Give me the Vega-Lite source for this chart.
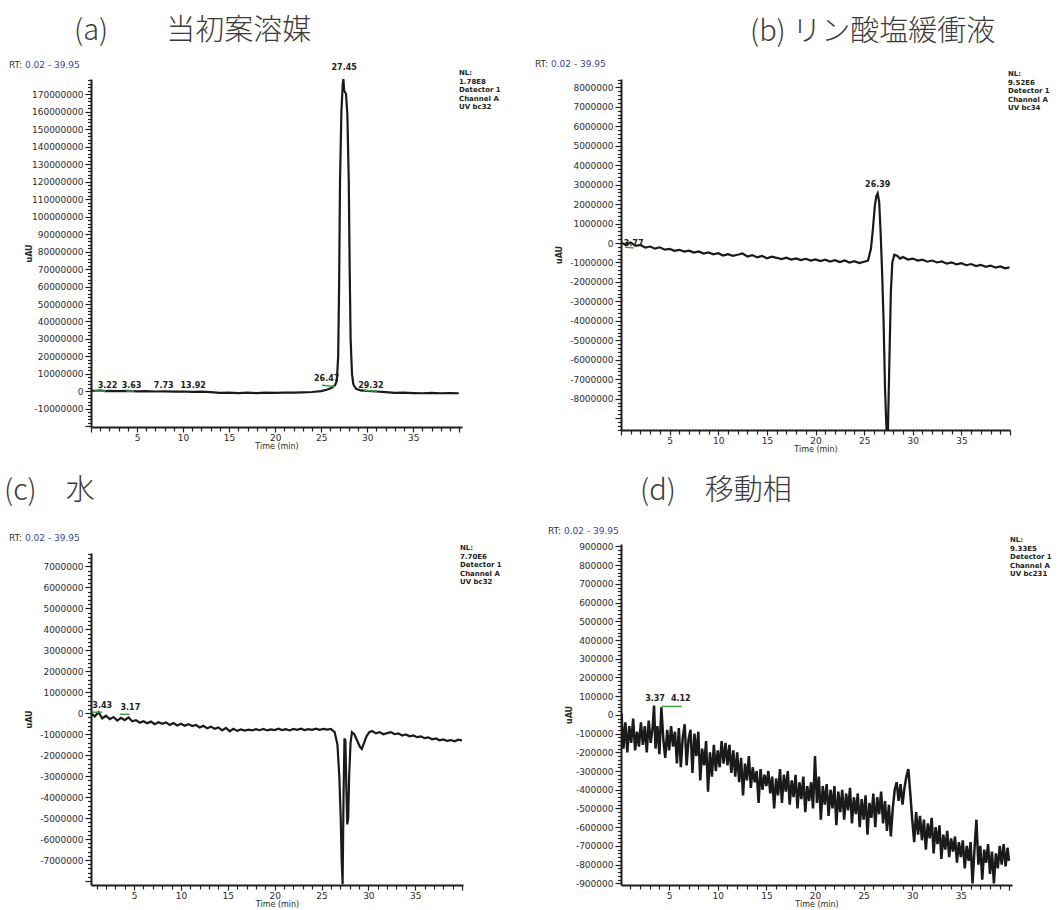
{
  "$schema": "https://vega.github.io/schema/vega-lite/v6.json",
  "background": "white",
  "padding": {"left": 4, "top": 17, "right": 4, "bottom": 0},
  "config": {
    "view": {"stroke": null},
    "font": "DejaVu Sans",
    "axis": {
      "domainColor": "#1e1e1e", "domainWidth": 2, "tickColor": "#1e1e1e", "tickWidth": 1.2,
      "labelFont": "DejaVu Sans", "labelFontSize": 9, "labelColor": "#2b2b2b", "labelPadding": 2,
      "titleFont": "DejaVu Sans", "titleFontSize": 8, "titleFontWeight": "normal", "titleColor": "#2b2b2b",
      "grid": false, "labelOverlap": false, "labelFlush": false
    },
    "axisX": {"titlePadding": 0, "labelPadding": 1},
    "axisY": {"titleFontWeight": "bold"},
    "title": {"font": "Noto Sans CJK JP", "fontSize": 29, "fontWeight": 300, "color": "#3a3a3a", "anchor": "start", "frame": "group", "baseline": "bottom"}
  },
  "datasets": {
    "a": [
      {"t":0.02,"v":500000},{"t":0.5,"v":300000},{"t":1,"v":600000},{"t":1.5,"v":200000},{"t":2,"v":400000},{"t":3,"v":200000},{"t":4,"v":300000},{"t":5,"v":100000},{"t":6,"v":200000},{"t":7,"v":0},{"t":8,"v":100000},{"t":9,"v":-100000},{"t":10,"v":0},{"t":11,"v":-200000},{"t":12,"v":-100000},{"t":13,"v":-400000},{"t":14,"v":-800000},{"t":15,"v":-600000},{"t":16,"v":-900000},{"t":17,"v":-700000},{"t":18,"v":-900000},{"t":19,"v":-600000},{"t":20,"v":-800000},{"t":21,"v":-700000},{"t":22,"v":-600000},{"t":23,"v":-500000},{"t":24,"v":-300000},{"t":25,"v":200000},{"t":25.6,"v":1000000},{"t":26.1,"v":2000000},{"t":26.5,"v":3500000},{"t":26.7,"v":6000000},{"t":26.85,"v":20000000},{"t":26.95,"v":60000000},{"t":27.05,"v":120000000},{"t":27.2,"v":160000000},{"t":27.35,"v":176000000},{"t":27.42,"v":178500000},{"t":27.5,"v":172000000},{"t":27.7,"v":170000000},{"t":27.85,"v":158000000},{"t":28,"v":120000000},{"t":28.1,"v":70000000},{"t":28.2,"v":30000000},{"t":28.35,"v":10000000},{"t":28.5,"v":4000000},{"t":28.8,"v":1500000},{"t":29.3,"v":600000},{"t":30,"v":300000},{"t":31,"v":0},{"t":32,"v":-400000},{"t":33,"v":-800000},{"t":34,"v":-700000},{"t":35,"v":-900000},{"t":36,"v":-1000000},{"t":37,"v":-800000},{"t":38,"v":-1000000},{"t":39,"v":-900000},{"t":39.95,"v":-1000000}
    ],
    "a_lab": [
      {"t":1.8,"v":0,"label":"3.22"},{"t":4.4,"v":0,"label":"3.63"},{"t":7.9,"v":0,"label":"7.73"},{"t":11.1,"v":0,"label":"13.92"},{"t":25.6,"v":4500000,"label":"26.47"},{"t":27.5,"v":182000000,"label":"27.45"},{"t":30.4,"v":0,"label":"29.32"}
    ],
    "a_base": [
      {"t":0.3,"t2":1.6,"v":300000,"v2":300000},{"t":3.8,"t2":4.7,"v":300000,"v2":300000},{"t":25.1,"t2":26.5,"v":3500000,"v2":2800000},{"t":29.6,"t2":31.1,"v":500000,"v2":300000}
    ],
    "b": [
      {"t":0.02,"v":0},{"t":0.5,"v":-80000},{"t":1,"v":30000},{"t":1.5,"v":-150000},{"t":2,"v":-100000},{"t":2.5,"v":-230000},{"t":3,"v":-180000},{"t":3.5,"v":-290000},{"t":4,"v":-220000},{"t":4.5,"v":-340000},{"t":5,"v":-300000},{"t":5.5,"v":-400000},{"t":6,"v":-350000},{"t":6.5,"v":-440000},{"t":7,"v":-390000},{"t":7.5,"v":-490000},{"t":8,"v":-430000},{"t":8.5,"v":-540000},{"t":9,"v":-480000},{"t":9.5,"v":-580000},{"t":10,"v":-520000},{"t":10.5,"v":-640000},{"t":11,"v":-570000},{"t":11.5,"v":-660000},{"t":12,"v":-600000},{"t":12.5,"v":-540000},{"t":13,"v":-690000},{"t":13.5,"v":-620000},{"t":14,"v":-740000},{"t":14.5,"v":-660000},{"t":15,"v":-780000},{"t":15.5,"v":-700000},{"t":16,"v":-760000},{"t":16.5,"v":-830000},{"t":17,"v":-750000},{"t":17.5,"v":-850000},{"t":18,"v":-790000},{"t":18.5,"v":-880000},{"t":19,"v":-810000},{"t":19.5,"v":-900000},{"t":20,"v":-840000},{"t":20.5,"v":-930000},{"t":21,"v":-860000},{"t":21.5,"v":-950000},{"t":22,"v":-880000},{"t":22.5,"v":-980000},{"t":23,"v":-900000},{"t":23.5,"v":-1000000},{"t":24,"v":-930000},{"t":24.5,"v":-1030000},{"t":25,"v":-960000},{"t":25.4,"v":-900000},{"t":25.7,"v":-300000},{"t":25.9,"v":700000},{"t":26.1,"v":1900000},{"t":26.25,"v":2400000},{"t":26.39,"v":2550000},{"t":26.55,"v":2100000},{"t":26.7,"v":500000},{"t":26.85,"v":-1500000},{"t":27,"v":-4000000},{"t":27.15,"v":-7500000},{"t":27.3,"v":-9600000},{"t":27.45,"v":-9600000},{"t":27.6,"v":-6000000},{"t":27.75,"v":-2500000},{"t":27.9,"v":-1000000},{"t":28.1,"v":-600000},{"t":28.4,"v":-650000},{"t":28.7,"v":-800000},{"t":29,"v":-720000},{"t":29.5,"v":-850000},{"t":30,"v":-800000},{"t":30.5,"v":-900000},{"t":31,"v":-860000},{"t":31.5,"v":-960000},{"t":32,"v":-900000},{"t":32.5,"v":-1000000},{"t":33,"v":-950000},{"t":33.5,"v":-1060000},{"t":34,"v":-1000000},{"t":34.5,"v":-1100000},{"t":35,"v":-1040000},{"t":35.5,"v":-1140000},{"t":36,"v":-1080000},{"t":36.5,"v":-1180000},{"t":37,"v":-1120000},{"t":37.5,"v":-1220000},{"t":38,"v":-1160000},{"t":38.5,"v":-1260000},{"t":39,"v":-1200000},{"t":39.5,"v":-1300000},{"t":39.95,"v":-1250000}
    ],
    "b_lab": [
      {"t":1.3,"v":-300000,"label":"3.77"},{"t":26.4,"v":2700000,"label":"26.39"}
    ],
    "b_base": [
      {"t":0.4,"t2":1.3,"v":-200000,"v2":-250000}
    ],
    "c": [
      {"t":0.4,"v":0},{"t":0.8,"v":-150000},{"t":1.2,"v":50000},{"t":1.6,"v":-250000},{"t":2,"v":-120000},{"t":2.4,"v":-280000},{"t":2.8,"v":-180000},{"t":3.2,"v":-350000},{"t":3.6,"v":-220000},{"t":4,"v":-330000},{"t":4.4,"v":-200000},{"t":4.8,"v":-380000},{"t":5.2,"v":-330000},{"t":5.6,"v":-450000},{"t":6,"v":-380000},{"t":6.4,"v":-480000},{"t":6.8,"v":-400000},{"t":7.2,"v":-520000},{"t":7.6,"v":-430000},{"t":8,"v":-500000},{"t":8.4,"v":-440000},{"t":8.8,"v":-560000},{"t":9.2,"v":-470000},{"t":9.6,"v":-580000},{"t":10,"v":-500000},{"t":10.4,"v":-600000},{"t":10.8,"v":-520000},{"t":11.2,"v":-610000},{"t":11.6,"v":-560000},{"t":12,"v":-680000},{"t":12.4,"v":-600000},{"t":12.8,"v":-720000},{"t":13.2,"v":-640000},{"t":13.6,"v":-740000},{"t":14,"v":-680000},{"t":14.4,"v":-820000},{"t":14.8,"v":-700000},{"t":15.2,"v":-860000},{"t":15.6,"v":-740000},{"t":16,"v":-840000},{"t":16.4,"v":-770000},{"t":16.8,"v":-830000},{"t":17.2,"v":-780000},{"t":17.6,"v":-820000},{"t":18,"v":-760000},{"t":18.4,"v":-810000},{"t":18.8,"v":-750000},{"t":19.2,"v":-820000},{"t":19.6,"v":-770000},{"t":20,"v":-800000},{"t":20.4,"v":-740000},{"t":20.8,"v":-800000},{"t":21.2,"v":-760000},{"t":21.6,"v":-820000},{"t":22,"v":-750000},{"t":22.4,"v":-790000},{"t":22.8,"v":-740000},{"t":23.2,"v":-800000},{"t":23.6,"v":-760000},{"t":24,"v":-790000},{"t":24.4,"v":-740000},{"t":24.8,"v":-790000},{"t":25.2,"v":-750000},{"t":25.6,"v":-780000},{"t":26,"v":-750000},{"t":26.4,"v":-900000},{"t":26.7,"v":-1500000},{"t":26.9,"v":-3000000},{"t":27.05,"v":-5000000},{"t":27.15,"v":-7000000},{"t":27.25,"v":-8150000},{"t":27.35,"v":-4000000},{"t":27.45,"v":-1200000},{"t":27.55,"v":-1300000},{"t":27.65,"v":-3500000},{"t":27.75,"v":-5300000},{"t":27.85,"v":-5000000},{"t":27.95,"v":-3000000},{"t":28.1,"v":-1400000},{"t":28.25,"v":-900000},{"t":28.5,"v":-1000000},{"t":28.8,"v":-1300000},{"t":29.1,"v":-1600000},{"t":29.3,"v":-1700000},{"t":29.55,"v":-1400000},{"t":29.8,"v":-1100000},{"t":30.1,"v":-900000},{"t":30.4,"v":-850000},{"t":30.8,"v":-960000},{"t":31.2,"v":-900000},{"t":31.6,"v":-1000000},{"t":32,"v":-950000},{"t":32.4,"v":-900000},{"t":32.8,"v":-1000000},{"t":33.2,"v":-960000},{"t":33.6,"v":-1060000},{"t":34,"v":-1010000},{"t":34.4,"v":-1100000},{"t":34.8,"v":-1060000},{"t":35.2,"v":-1140000},{"t":35.6,"v":-1100000},{"t":36,"v":-1190000},{"t":36.4,"v":-1150000},{"t":36.8,"v":-1240000},{"t":37.2,"v":-1200000},{"t":37.6,"v":-1290000},{"t":38,"v":-1250000},{"t":38.4,"v":-1320000},{"t":38.8,"v":-1280000},{"t":39.2,"v":-1340000},{"t":39.6,"v":-1260000},{"t":40,"v":-1300000}
    ],
    "c_lab": [
      {"t":1.6,"v":100000,"label":"3.43"},{"t":4.6,"v":0,"label":"3.17"}
    ],
    "c_base": [
      {"t":0.5,"t2":1.6,"v":50000,"v2":50000},{"t":3.5,"t2":4.5,"v":-50000,"v2":-50000}
    ],
    "d": [
      {"t":0.1,"v":10000},{"t":0.3,"v":-180000},{"t":0.5,"v":-40000},{"t":0.7,"v":-200000},{"t":0.9,"v":-60000},{"t":1.1,"v":-150000},{"t":1.3,"v":-20000},{"t":1.5,"v":-190000},{"t":1.7,"v":-90000},{"t":1.9,"v":-170000},{"t":2.1,"v":-40000},{"t":2.3,"v":-160000},{"t":2.5,"v":-60000},{"t":2.7,"v":-200000},{"t":2.9,"v":-30000},{"t":3.1,"v":-150000},{"t":3.3,"v":-70000},{"t":3.45,"v":50000},{"t":3.6,"v":-180000},{"t":3.8,"v":-60000},{"t":4,"v":-210000},{"t":4.2,"v":40000},{"t":4.4,"v":-130000},{"t":4.6,"v":-230000},{"t":4.8,"v":-80000},{"t":5,"v":-190000},{"t":5.2,"v":-60000},{"t":5.4,"v":-170000},{"t":5.6,"v":-90000},{"t":5.8,"v":-260000},{"t":6,"v":-70000},{"t":6.2,"v":-280000},{"t":6.4,"v":-120000},{"t":6.6,"v":-50000},{"t":6.8,"v":-270000},{"t":7,"v":-130000},{"t":7.2,"v":-80000},{"t":7.4,"v":-310000},{"t":7.6,"v":-100000},{"t":7.8,"v":-220000},{"t":8,"v":-90000},{"t":8.2,"v":-350000},{"t":8.4,"v":-180000},{"t":8.6,"v":-270000},{"t":8.8,"v":-140000},{"t":9,"v":-410000},{"t":9.2,"v":-200000},{"t":9.4,"v":-330000},{"t":9.6,"v":-160000},{"t":9.8,"v":-300000},{"t":10,"v":-190000},{"t":10.2,"v":-280000},{"t":10.4,"v":-140000},{"t":10.6,"v":-260000},{"t":10.8,"v":-150000},{"t":11,"v":-270000},{"t":11.2,"v":-160000},{"t":11.4,"v":-310000},{"t":11.6,"v":-190000},{"t":11.8,"v":-330000},{"t":12,"v":-200000},{"t":12.2,"v":-360000},{"t":12.4,"v":-230000},{"t":12.6,"v":-430000},{"t":12.8,"v":-260000},{"t":13,"v":-350000},{"t":13.2,"v":-220000},{"t":13.4,"v":-390000},{"t":13.6,"v":-280000},{"t":13.8,"v":-360000},{"t":14,"v":-300000},{"t":14.2,"v":-470000},{"t":14.4,"v":-290000},{"t":14.6,"v":-400000},{"t":14.8,"v":-320000},{"t":15,"v":-380000},{"t":15.2,"v":-300000},{"t":15.4,"v":-420000},{"t":15.6,"v":-330000},{"t":15.8,"v":-500000},{"t":16,"v":-340000},{"t":16.2,"v":-430000},{"t":16.4,"v":-290000},{"t":16.6,"v":-470000},{"t":16.8,"v":-320000},{"t":17,"v":-410000},{"t":17.2,"v":-300000},{"t":17.4,"v":-480000},{"t":17.6,"v":-350000},{"t":17.8,"v":-440000},{"t":18,"v":-320000},{"t":18.2,"v":-500000},{"t":18.4,"v":-360000},{"t":18.6,"v":-450000},{"t":18.8,"v":-330000},{"t":19,"v":-520000},{"t":19.2,"v":-380000},{"t":19.4,"v":-460000},{"t":19.6,"v":-360000},{"t":19.8,"v":-500000},{"t":20,"v":-220000},{"t":20.2,"v":-470000},{"t":20.4,"v":-330000},{"t":20.6,"v":-560000},{"t":20.8,"v":-380000},{"t":21,"v":-480000},{"t":21.2,"v":-370000},{"t":21.4,"v":-540000},{"t":21.6,"v":-400000},{"t":21.8,"v":-500000},{"t":22,"v":-380000},{"t":22.2,"v":-590000},{"t":22.4,"v":-410000},{"t":22.6,"v":-520000},{"t":22.8,"v":-400000},{"t":23,"v":-560000},{"t":23.2,"v":-420000},{"t":23.4,"v":-510000},{"t":23.6,"v":-390000},{"t":23.8,"v":-580000},{"t":24,"v":-440000},{"t":24.2,"v":-530000},{"t":24.4,"v":-420000},{"t":24.6,"v":-600000},{"t":24.8,"v":-450000},{"t":25,"v":-560000},{"t":25.2,"v":-430000},{"t":25.4,"v":-640000},{"t":25.6,"v":-470000},{"t":25.8,"v":-550000},{"t":26,"v":-420000},{"t":26.2,"v":-600000},{"t":26.4,"v":-440000},{"t":26.6,"v":-530000},{"t":26.8,"v":-410000},{"t":27,"v":-580000},{"t":27.2,"v":-460000},{"t":27.4,"v":-620000},{"t":27.6,"v":-480000},{"t":27.8,"v":-650000},{"t":28,"v":-500000},{"t":28.2,"v":-400000},{"t":28.4,"v":-360000},{"t":28.6,"v":-460000},{"t":28.8,"v":-370000},{"t":29,"v":-480000},{"t":29.2,"v":-390000},{"t":29.4,"v":-330000},{"t":29.6,"v":-290000},{"t":29.8,"v":-420000},{"t":30,"v":-560000},{"t":30.2,"v":-680000},{"t":30.4,"v":-520000},{"t":30.6,"v":-640000},{"t":30.8,"v":-540000},{"t":31,"v":-670000},{"t":31.2,"v":-560000},{"t":31.4,"v":-720000},{"t":31.6,"v":-580000},{"t":31.8,"v":-660000},{"t":32,"v":-550000},{"t":32.2,"v":-740000},{"t":32.4,"v":-600000},{"t":32.6,"v":-690000},{"t":32.8,"v":-590000},{"t":33,"v":-770000},{"t":33.2,"v":-640000},{"t":33.4,"v":-720000},{"t":33.6,"v":-620000},{"t":33.8,"v":-760000},{"t":34,"v":-660000},{"t":34.2,"v":-730000},{"t":34.4,"v":-650000},{"t":34.6,"v":-790000},{"t":34.8,"v":-680000},{"t":35,"v":-760000},{"t":35.2,"v":-670000},{"t":35.4,"v":-820000},{"t":35.6,"v":-700000},{"t":35.8,"v":-780000},{"t":36,"v":-680000},{"t":36.2,"v":-900000},{"t":36.4,"v":-720000},{"t":36.6,"v":-560000},{"t":36.8,"v":-800000},{"t":37,"v":-700000},{"t":37.2,"v":-880000},{"t":37.4,"v":-720000},{"t":37.6,"v":-790000},{"t":37.8,"v":-690000},{"t":38,"v":-850000},{"t":38.2,"v":-730000},{"t":38.4,"v":-900000},{"t":38.6,"v":-740000},{"t":38.8,"v":-820000},{"t":39,"v":-700000},{"t":39.2,"v":-800000},{"t":39.4,"v":-690000},{"t":39.6,"v":-810000},{"t":39.8,"v":-710000},{"t":39.95,"v":-780000}
    ],
    "d_lab": [
      {"t":3.55,"v":60000,"label":"3.37"},{"t":6.2,"v":60000,"label":"4.12"}
    ],
    "d_base": [
      {"t":4.2,"t2":6.3,"v":45000,"v2":45000}
    ]
  },
  "spacing": 33,
  "hconcat": [
    {
      "bounds": "flush",
      "spacing": 126,
      "vconcat": [
        {
          "width": 371, "height": 348,
          "title": {"text": "(a)　　当初案溶媒", "dx": -17, "offset": 15},
          "layer": [
            {
              "data": {"name": "a"},
              "mark": {"type": "line", "color": "#1a1a1a", "strokeWidth": 2.2, "clip": true},
              "encoding": {
                "x": {"field": "t", "type": "quantitative", "scale": {"domain": [0, 40.3], "nice": false, "zero": false},
                      "axis": {"title": "Time (min)", "tickCount": 40, "labelExpr": "datum.value % 5 === 0 && datum.value > 0 && datum.value < 40 ? datum.label : ''", "tickSize": {"condition": {"test": "datum.value % 5 === 0", "value": 5}, "value": 4}}},
                "y": {"field": "v", "type": "quantitative", "scale": {"domain": [-20300000, 178600000], "nice": false, "zero": false},
                      "axis": {"title": "uAU", "titleX": -58, "tickCount": 100, "labelExpr": "datum.value % 10000000 === 0 && datum.value >= -10000000 ? '' + datum.value : ''", "tickSize": {"condition": {"test": "datum.value % 10000000 === 0", "value": 6}, "value": 3.5}}}
              }
            },
            {
              "data": {"name": "a_base"},
              "mark": {"type": "rule", "color": "#3f9f45", "strokeWidth": 1.5},
              "encoding": {"x": {"field": "t", "type": "quantitative"}, "x2": {"field": "t2"}, "y": {"field": "v", "type": "quantitative"}, "y2": {"field": "v2"}}
            },
            {
              "data": {"name": "a_lab"},
              "mark": {"type": "text", "font": "DejaVu Sans", "fontSize": 8, "fontWeight": "bold", "baseline": "bottom", "dy": -1, "color": "#222"},
              "encoding": {"x": {"field": "t", "type": "quantitative"}, "y": {"field": "v", "type": "quantitative"}, "text": {"field": "label"}}
            },
            {
              "data": {"values": [{}]},
              "mark": {"type": "text", "align": "left", "baseline": "middle", "fontSize": 9, "color": "#333", "dx": -82, "dy": -14, "text": "RT:"},
              "encoding": {"x": {"datum": 0}, "y": {"datum": 178600000}}
            },
            {
              "data": {"values": [{}]},
              "mark": {"type": "text", "align": "left", "baseline": "middle", "fontSize": 9, "color": "#3346a8", "dx": -66, "dy": -14, "text": "0.02 - 39.95"},
              "encoding": {"x": {"datum": 0}, "y": {"datum": 178600000}}
            },
            {
              "data": {"values": [{}]},
              "mark": {"type": "text", "align": "left", "baseline": "top", "fontSize": 7, "fontWeight": "bold", "lineHeight": 8.6, "color": "#222", "dx": -3, "dy": -10, "text": ["NL:", "1.78E8", "Detector 1", "Channel A", "UV bc32"]},
              "encoding": {"x": {"datum": 40.3}, "y": {"datum": 178600000}}
            }
          ]
        },
        {
          "width": 372, "height": 332,
          "title": {"text": "(c)　水", "dx": -87, "offset": 28},
          "layer": [
            {
              "data": {"name": "c"},
              "mark": {"type": "line", "color": "#1a1a1a", "strokeWidth": 2.2, "clip": true},
              "encoding": {
                "x": {"field": "t", "type": "quantitative", "scale": {"domain": [0.4, 40.1], "nice": false, "zero": false},
                      "axis": {"title": "Time (min)", "tickCount": 40, "labelExpr": "datum.value % 5 === 0 && datum.value > 0 && datum.value < 40 ? datum.label : ''", "tickSize": {"condition": {"test": "datum.value % 5 === 0", "value": 5}, "value": 4}}},
                "y": {"field": "v", "type": "quantitative", "scale": {"domain": [-8190000, 7640000], "nice": false, "zero": false},
                      "axis": {"title": "uAU", "titleX": -58, "tickCount": 80, "labelExpr": "datum.value % 1000000 === 0 && abs(datum.value) <= 7000000 ? '' + datum.value : ''", "tickSize": {"condition": {"test": "datum.value % 1000000 === 0", "value": 6}, "value": 3.5}}}
              }
            },
            {
              "data": {"name": "c_base"},
              "mark": {"type": "rule", "color": "#3f9f45", "strokeWidth": 1.5},
              "encoding": {"x": {"field": "t", "type": "quantitative"}, "x2": {"field": "t2"}, "y": {"field": "v", "type": "quantitative"}, "y2": {"field": "v2"}}
            },
            {
              "data": {"name": "c_lab"},
              "mark": {"type": "text", "font": "DejaVu Sans", "fontSize": 8, "fontWeight": "bold", "baseline": "bottom", "dy": -1, "color": "#222"},
              "encoding": {"x": {"field": "t", "type": "quantitative"}, "y": {"field": "v", "type": "quantitative"}, "text": {"field": "label"}}
            },
            {
              "data": {"values": [{}]},
              "mark": {"type": "text", "align": "left", "baseline": "middle", "fontSize": 9, "color": "#333", "dx": -82, "dy": -15.5, "text": "RT:"},
              "encoding": {"x": {"datum": 0.4}, "y": {"datum": 7640000}}
            },
            {
              "data": {"values": [{}]},
              "mark": {"type": "text", "align": "left", "baseline": "middle", "fontSize": 9, "color": "#3346a8", "dx": -66, "dy": -15.5, "text": "0.02 - 39.95"},
              "encoding": {"x": {"datum": 0.4}, "y": {"datum": 7640000}}
            },
            {
              "data": {"values": [{}]},
              "mark": {"type": "text", "align": "left", "baseline": "top", "fontSize": 7, "fontWeight": "bold", "lineHeight": 8.6, "color": "#222", "dx": -3, "dy": -9, "text": ["NL:", "7.70E6", "Detector 1", "Channel A", "UV bc32"]},
              "encoding": {"x": {"datum": 40.1}, "y": {"datum": 7640000}}
            }
          ]
        }
      ]
    },
    {
      "bounds": "flush",
      "spacing": 114,
      "vconcat": [
        {
          "width": 389, "height": 351,
          "title": {"text": "(b) リン酸塩緩衝液", "dx": 129, "offset": 13},
          "layer": [
            {
              "data": {"name": "b"},
              "mark": {"type": "line", "color": "#1a1a1a", "strokeWidth": 2.2, "clip": true},
              "encoding": {
                "x": {"field": "t", "type": "quantitative", "scale": {"domain": [0, 40], "nice": false, "zero": false},
                      "axis": {"title": "Time (min)", "tickCount": 40, "labelExpr": "datum.value % 5 === 0 && datum.value > 0 && datum.value < 40 ? datum.label : ''", "tickSize": {"condition": {"test": "datum.value % 5 === 0", "value": 5}, "value": 4}}},
                "y": {"field": "v", "type": "quantitative", "scale": {"domain": [-9610000, 8430000], "nice": false, "zero": false},
                      "axis": {"title": "uAU", "titleX": -58, "tickCount": 90, "labelExpr": "datum.value % 1000000 === 0 && abs(datum.value) <= 8000000 ? '' + datum.value : ''", "tickSize": {"condition": {"test": "datum.value % 1000000 === 0", "value": 6}, "value": 3.5}}}
              }
            },
            {
              "data": {"name": "b_base"},
              "mark": {"type": "rule", "color": "#3f9f45", "strokeWidth": 1.5},
              "encoding": {"x": {"field": "t", "type": "quantitative"}, "x2": {"field": "t2"}, "y": {"field": "v", "type": "quantitative"}, "y2": {"field": "v2"}}
            },
            {
              "data": {"name": "b_lab"},
              "mark": {"type": "text", "font": "DejaVu Sans", "fontSize": 8, "fontWeight": "bold", "baseline": "bottom", "dy": -1, "color": "#222"},
              "encoding": {"x": {"field": "t", "type": "quantitative"}, "y": {"field": "v", "type": "quantitative"}, "text": {"field": "label"}}
            },
            {
              "data": {"values": [{}]},
              "mark": {"type": "text", "align": "left", "baseline": "middle", "fontSize": 9, "color": "#333", "dx": -86, "dy": -15.5, "text": "RT:"},
              "encoding": {"x": {"datum": 0}, "y": {"datum": 8430000}}
            },
            {
              "data": {"values": [{}]},
              "mark": {"type": "text", "align": "left", "baseline": "middle", "fontSize": 9, "color": "#3346a8", "dx": -70, "dy": -15.5, "text": "0.02 - 39.95"},
              "encoding": {"x": {"datum": 0}, "y": {"datum": 8430000}}
            },
            {
              "data": {"values": [{}]},
              "mark": {"type": "text", "align": "left", "baseline": "top", "fontSize": 7, "fontWeight": "bold", "lineHeight": 8.6, "color": "#222", "dx": -2, "dy": -9, "text": ["NL:", "9.52E6", "Detector 1", "Channel A", "UV bc34"]},
              "encoding": {"x": {"datum": 40}, "y": {"datum": 8430000}}
            }
          ]
        },
        {
          "width": 391, "height": 341,
          "title": {"text": "(d)　移動相", "dx": 19, "offset": 21},
          "layer": [
            {
              "data": {"name": "d"},
              "mark": {"type": "line", "color": "#1a1a1a", "strokeWidth": 2.5, "clip": true},
              "encoding": {
                "x": {"field": "t", "type": "quantitative", "scale": {"domain": [0.05, 40.26], "nice": false, "zero": false},
                      "axis": {"title": "Time (min)", "tickCount": 40, "labelExpr": "datum.value % 5 === 0 && datum.value > 0 && datum.value < 40 ? datum.label : ''", "tickSize": {"condition": {"test": "datum.value % 5 === 0", "value": 5}, "value": 4}}},
                "y": {"field": "v", "type": "quantitative", "scale": {"domain": [-909000, 913000], "nice": false, "zero": false},
                      "axis": {"title": "uAU", "titleX": -48, "tickCount": 91, "labelExpr": "datum.value % 100000 === 0 && abs(datum.value) <= 900000 ? '' + datum.value : ''", "tickSize": {"condition": {"test": "datum.value % 100000 === 0", "value": 6}, "value": 3.5}}}
              }
            },
            {
              "data": {"name": "d_base"},
              "mark": {"type": "rule", "color": "#3f9f45", "strokeWidth": 1.5},
              "encoding": {"x": {"field": "t", "type": "quantitative"}, "x2": {"field": "t2"}, "y": {"field": "v", "type": "quantitative"}, "y2": {"field": "v2"}}
            },
            {
              "data": {"name": "d_lab"},
              "mark": {"type": "text", "font": "DejaVu Sans", "fontSize": 8, "fontWeight": "bold", "baseline": "bottom", "dy": -1, "color": "#222"},
              "encoding": {"x": {"field": "t", "type": "quantitative"}, "y": {"field": "v", "type": "quantitative"}, "text": {"field": "label"}}
            },
            {
              "data": {"values": [{}]},
              "mark": {"type": "text", "align": "left", "baseline": "middle", "fontSize": 9, "color": "#333", "dx": -73, "dy": -13, "text": "RT:"},
              "encoding": {"x": {"datum": 0.05}, "y": {"datum": 913000}}
            },
            {
              "data": {"values": [{}]},
              "mark": {"type": "text", "align": "left", "baseline": "middle", "fontSize": 9, "color": "#3346a8", "dx": -57, "dy": -13, "text": "0.02 - 39.95"},
              "encoding": {"x": {"datum": 0.05}, "y": {"datum": 913000}}
            },
            {
              "data": {"values": [{}]},
              "mark": {"type": "text", "align": "left", "baseline": "top", "fontSize": 7, "fontWeight": "bold", "lineHeight": 8.6, "color": "#222", "dx": -2, "dy": -8, "text": ["NL:", "9.33E5", "Detector 1", "Channel A", "UV bc231"]},
              "encoding": {"x": {"datum": 40.26}, "y": {"datum": 913000}}
            }
          ]
        }
      ]
    }
  ]
}
